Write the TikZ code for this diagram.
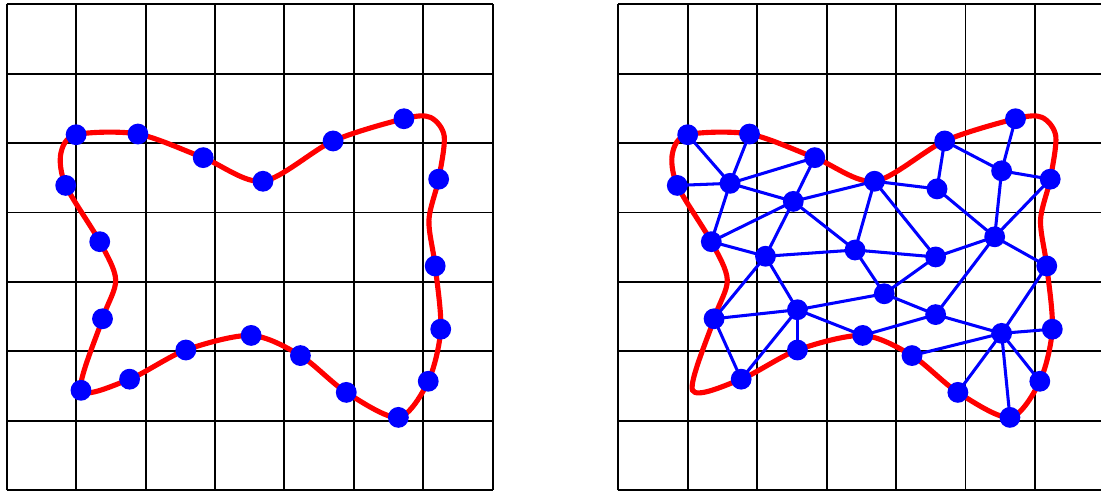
\documentclass[tikz,border=0pt]{standalone}

\begin{document}
\begin{tikzpicture}[line width=0.8pt,
    gridline/.style={line width=0.8pt},
    rim/.style={red,line width=2.1pt},
    edge/.style={blue,line width=1.25pt},
    dot/.style={fill=blue}]
  \useasboundingbox (-0.096,-0.014) rectangle (15.757,7.06);
  % two panels: grid and boundary curve
  \foreach \dx/\side in {0/l,8.806/r}{
    \begin{scope}[xshift=\dx cm,name prefix=\side-]
      \draw[gridline] (0,0) grid (7,7);
      \foreach \n/\x/\y in {b1/1.00/5.12, b2/1.89/5.13, b3/2.83/4.79, b4/3.69/4.45,
          b5/4.70/5.03, b6/5.72/5.35, c1/6.10/5.37, c2/6.30/5.10, b7/6.22/4.48,
          c3/6.08/3.89, b8/6.17/3.23, b9/6.25/2.32, b10/6.07/1.57, b11/5.64/1.05,
          b12/4.89/1.41, b13/4.23/1.94, b14/3.52/2.23, b15/2.58/2.02, b16/1.77/1.60,
          b17/1.07/1.44, b18/1.38/2.47, c4/1.57/3.03, b19/1.34/3.58, b20/0.85/4.39,
          c5/0.78/4.85}{ \coordinate (\n) at (\x,\y); }
      \draw[rim] plot[smooth cycle] coordinates {(b1) (b2) (b3) (b4) (b5) (b6) (c1)
        (c2) (b7) (c3) (b8) (b9) (b10) (b11) (b12) (b13) (b14) (b15) (b16) (b17)
        (b18) (c4) (b19) (b20) (c5)};
    \end{scope}}
  % left panel: boundary samples
  \begin{scope}[name prefix=l-]
    \foreach \k in {1,...,20}{ \fill[dot] (b\k) circle (0.15); }
  \end{scope}
  % right panel: interior points and triangulation
  \begin{scope}[xshift=8.806cm,name prefix=r-]
    \foreach \n/\x/\y in {i1/1.61/4.42, i2/2.52/4.16, i3/2.12/3.37, i4/3.41/3.46,
        i5/3.83/2.83, i6/2.58/2.60, i7/4.57/2.53, i8/4.57/3.36, i9/4.59/4.34,
        i10/5.52/4.60, i11/5.42/3.65, i12/5.52/2.26}{ \coordinate (\n) at (\x,\y); }
    \foreach \a/\b in {b1/i1, b2/i1, b20/i1, i1/b3, i1/i2, i1/b19, b3/i2, i2/b19,
        i2/b4, i2/i3, i2/i4, b19/i3, i3/i4, i3/b18, i3/i6, b18/i6, b18/b16, i6/b16,
        i6/b15, i6/i5, i6/b14, b4/i4, b4/i9, b4/i8, i4/i8, i4/i5, i5/i8, i5/i7,
        i8/i11, i9/i11, i9/b5, b5/i10, b6/i10, i10/b7, i10/i11, b7/i11, i11/b8,
        i11/i7, b8/i12, i7/b14, i7/i12, i12/b9, i12/b13, i12/b10, i12/b11, i12/b12}{
      \draw[edge] (\a) -- (\b); }
    \foreach \k in {1,...,16,18,19,20}{ \fill[dot] (b\k) circle (0.15); }
    \foreach \k in {1,...,12}{ \fill[dot] (i\k) circle (0.15); }
  \end{scope}
\end{tikzpicture}
\end{document}
